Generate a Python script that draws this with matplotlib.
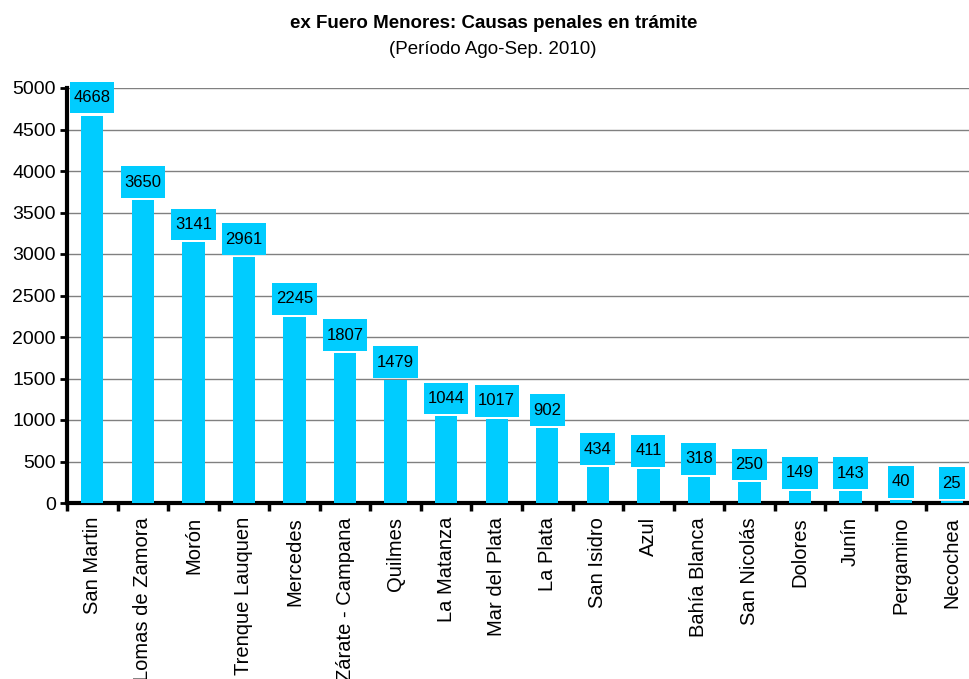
import matplotlib
matplotlib.use("Agg")
import matplotlib.pyplot as plt
from matplotlib.path import Path
import numpy as np

plt.rcParams['font.family'] = ['Liberation Sans', 'DejaVu Sans']

departamentos = ['San Martin', 'Lomas de Zamora', 'Morón', 'Trenque Lauquen', 'Mercedes',
                 'Zárate - Campana', 'Quilmes', 'La Matanza', 'Mar del Plata', 'La Plata',
                 'San Isidro', 'Azul', 'Bahía Blanca', 'San Nicolás', 'Dolores', 'Junín',
                 'Pergamino', 'Necochea']
causas = [4668, 3650, 3141, 2961, 2245, 1807, 1479, 1044, 1017, 902,
          434, 411, 318, 250, 149, 143, 40, 25]
yticks = [0, 500, 1000, 1500, 2000, 2500, 3000, 3500, 4000, 4500, 5000]

cyan = '#00CCFF'


# label box: narrow sides, taller top/bottom (like the excel labels)
def tall_box(x0, y0, width, height, mutation_size):
    px, py = 0.22 * mutation_size, 0.5 * mutation_size
    x0, y0 = x0 - px, y0 - py
    x1, y1 = x0 + width + 2 * px, y0 + height + 2 * py
    return Path([(x0, y0), (x1, y0), (x1, y1), (x0, y1), (x0, y0)], closed=True)


fig = plt.figure(figsize=(9.69, 6.79), dpi=100)
ax = fig.add_axes([67/969, 176/679, 910/969, 415/679])

x = np.arange(len(causas))
ax.bar(x, causas, width=0.44, color=cyan, zorder=3)

for xi, v in zip(x, causas):
    ax.annotate(str(v), (xi, v), xytext=(0, 7.5), textcoords='offset points',
                ha='center', va='bottom', fontsize=12, zorder=4,
                bbox=dict(boxstyle=tall_box, fc=cyan, ec='none'))

ax.set_xlim(-0.5, len(causas) - 0.5)
ax.set_ylim(0, 5000)
ax.set_yticks(yticks)
ax.yaxis.grid(True, color='#808080', lw=1, zorder=0)
ax.tick_params(axis='y', labelsize=14, width=2, length=5, direction='out', pad=3)

ax.set_xticks(x)
ax.set_xticklabels(departamentos, rotation=90, fontsize=14.5)
ax.tick_params(axis='x', which='major', length=0, pad=10)
ax.set_xticks(np.arange(len(causas) + 1) - 0.5, minor=True)
ax.tick_params(axis='x', which='minor', length=6, width=2.5, direction='out')

for s in ['top', 'right']:
    ax.spines[s].set_visible(False)
for s in ['left', 'bottom']:
    ax.spines[s].set_linewidth(3)

fig.text(0.509, 1 - 24/679, 'ex Fuero Menores: Causas penales en trámite',
         ha='center', va='center', fontsize=13.5, fontweight='bold')
fig.text(0.509, 1 - 50/679, '(Período Ago-Sep. 2010)', ha='center', va='center', fontsize=13.5)

fig.savefig('out.png', dpi=100)
